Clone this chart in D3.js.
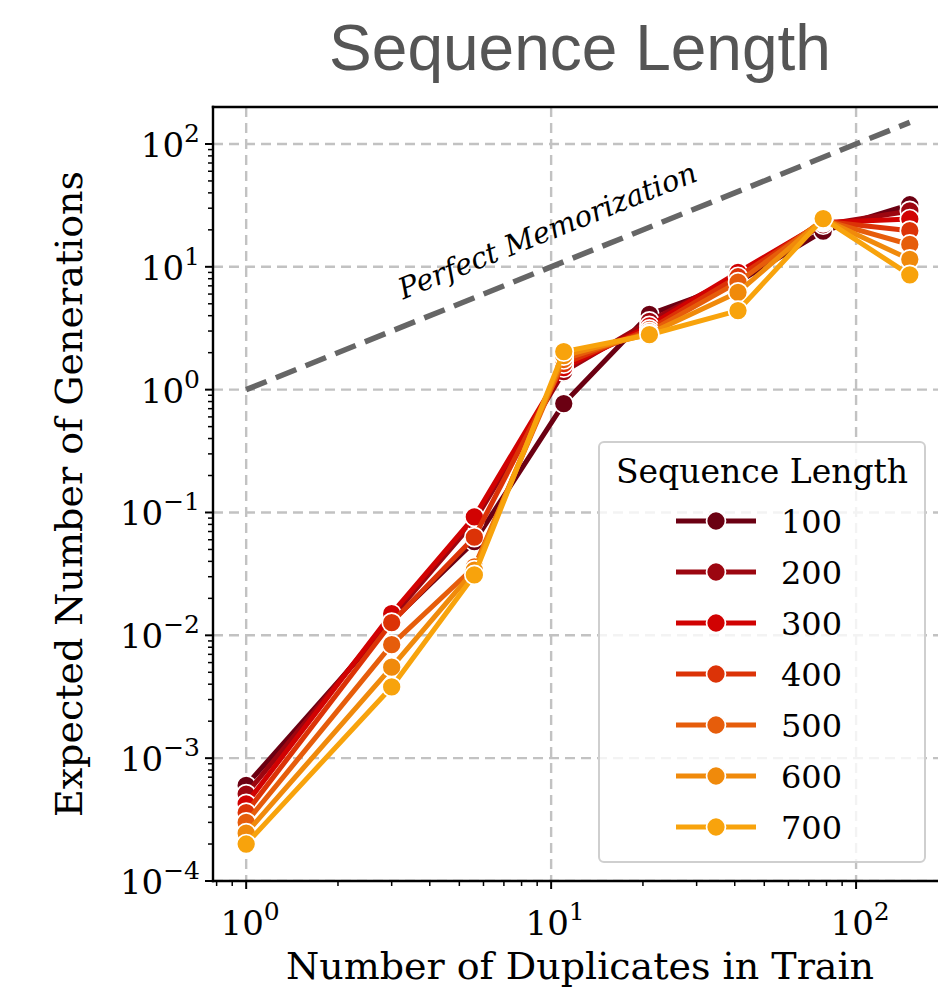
<!DOCTYPE html>
<html>
<head>
<meta charset="utf-8">
<script src="https://cdn.jsdelivr.net/npm/d3@7"></script>
<style>
  body { margin: 0; background: #fff; }
  svg { display: block; }
</style>
</head>
<body>
<div id="viz"></div>
<script>
// data
const duplicates = [1, 3, 5.6, 11, 21, 41, 78, 150];
const seqLengths = ["100", "200", "300", "400", "500", "600", "700"];
const seqColors = ["#6b0012", "#9c0610", "#d10202", "#dc3307", "#e65d0b", "#f08a0b", "#f8a30c"];
const gen100 = [6.0e-4, 0.013, 0.058, 0.77, 4.1, 7.5, 19.5, 32];
const gen200 = [5.1e-4, 0.014, 0.085, 1.40, 3.6, 8.5, 22, 28.5];
const gen300 = [4.25e-4, 0.015, 0.092, 1.51, 3.3, 9.0, 23, 24.5];
const gen400 = [3.6e-4, 0.0127, 0.063, 1.63, 3.1, 8.3, 23.5, 19.7];
const gen500 = [3.0e-4, 0.0084, 0.036, 1.76, 2.95, 7.5, 24, 15.2];
const gen600 = [2.45e-4, 0.0055, 0.034, 1.89, 2.85, 6.2, 24.5, 11.5];
const gen700 = [2.0e-4, 0.0038, 0.031, 2.04, 2.8, 4.4, 24.7, 8.6];
const allSeries = [gen100, gen200, gen300, gen400, gen500, gen600, gen700];
const perfectLine = [1, 150];
const xTickExps = [0, 1, 2];
const yTickExps = [-4, -3, -2, -1, 0, 1, 2];

const W = 938, H = 988;
const pLeft = 213, pRight = 943, pTop = 107, pBottom = 881;

const svg = d3.select("#viz").append("svg")
    .attr("width", W).attr("height", H);

const x = d3.scaleLog().domain([Math.pow(10, -0.1088), Math.pow(10, 2.285)]).range([pLeft, pRight]);
const y = d3.scaleLog().domain([1e-4, Math.pow(10, 2.301)]).range([pBottom, pTop]);

svg.append("defs").append("clipPath").attr("id", "plot")
  .append("rect").attr("x", pLeft).attr("y", pTop)
  .attr("width", pRight - pLeft).attr("height", pBottom - pTop);

// grid
const grid = svg.append("g").attr("clip-path", "url(#plot)");
xTickExps.forEach(e => {
  grid.append("line")
    .attr("x1", x(Math.pow(10, e))).attr("x2", x(Math.pow(10, e)))
    .attr("y1", pTop).attr("y2", pBottom)
    .attr("stroke", "#c2c2c2").attr("stroke-width", 2.4).attr("stroke-dasharray", "10,6");
});
yTickExps.forEach(e => {
  grid.append("line")
    .attr("x1", pLeft).attr("x2", pRight)
    .attr("y1", y(Math.pow(10, e))).attr("y2", y(Math.pow(10, e)))
    .attr("stroke", "#c2c2c2").attr("stroke-width", 2.4).attr("stroke-dasharray", "10,6");
});

// perfect memorization
svg.append("line")
  .attr("x1", x(perfectLine[0])).attr("y1", y(perfectLine[0]))
  .attr("x2", x(perfectLine[1])).attr("y2", y(perfectLine[1]))
  .attr("stroke", "#666").attr("stroke-width", 5.5).attr("stroke-dasharray", "22,10");

const ang = Math.atan2(y(1) - y(10), x(10) - x(1)) * 180 / Math.PI;
svg.append("text")
  .attr("transform", `translate(${x(10)},${y(10) - 27}) rotate(${-ang})`)
  .attr("text-anchor", "middle")
  .attr("font-family", "DejaVu Serif")
  .attr("font-style", "italic")
  .attr("font-size", 29)
  .text("Perfect Memorization");

// series
const line = d3.line().x((d, i) => x(duplicates[i])).y(d => y(d));
allSeries.forEach((vals, k) => {
  const g = svg.append("g");
  g.append("path").datum(vals)
    .attr("d", line)
    .attr("fill", "none")
    .attr("stroke", seqColors[k])
    .attr("stroke-width", 5)
    .attr("stroke-linejoin", "round");
  g.selectAll("circle").data(vals).enter().append("circle")
    .attr("cx", (d, i) => x(duplicates[i]))
    .attr("cy", d => y(d))
    .attr("r", 9.5)
    .attr("fill", seqColors[k])
    .attr("stroke", "#fff")
    .attr("stroke-width", 1.7);
});

// spines
const spW = 2.4;
[[pLeft, pLeft, pTop, pBottom], [pLeft, pRight, pBottom, pBottom],
 [pLeft, pRight, pTop, pTop], [pRight, pRight, pTop, pBottom]].forEach(s => {
  svg.append("line").attr("x1", s[0]).attr("x2", s[1]).attr("y1", s[2]).attr("y2", s[3])
    .attr("stroke", "#000").attr("stroke-width", spW).attr("stroke-linecap", "square");
});

// ticks
function logTicks(scale) {
  const [a, b] = scale.domain();
  const out = [];
  for (let e = Math.floor(Math.log10(a)); e <= Math.ceil(Math.log10(b)); e++) {
    for (let m = 1; m <= 9; m++) {
      const v = m * Math.pow(10, e);
      if (v >= a && v <= b) out.push({ v, major: m === 1 });
    }
  }
  return out;
}
logTicks(x).forEach(t => {
  svg.append("line").attr("x1", x(t.v)).attr("x2", x(t.v))
    .attr("y1", pBottom).attr("y2", pBottom + (t.major ? 8 : 5))
    .attr("stroke", "#000").attr("stroke-width", t.major ? 2 : 1.5);
});
logTicks(y).forEach(t => {
  svg.append("line").attr("x1", pLeft).attr("x2", pLeft - (t.major ? 8 : 5))
    .attr("y1", y(t.v)).attr("y2", y(t.v))
    .attr("stroke", "#000").attr("stroke-width", t.major ? 2 : 1.5);
});

function powLabel(sel, e) {
  sel.append("tspan").text("10");
  sel.append("tspan").attr("dy", -15).attr("font-size", 25)
    .text(e < 0 ? "\u2212" + (-e) : String(e));
}
xTickExps.forEach(e => {
  const t = svg.append("text")
    .attr("x", x(Math.pow(10, e)) + 4).attr("y", pBottom + 54)
    .attr("text-anchor", "middle")
    .attr("font-family", "DejaVu Serif").attr("font-size", 34);
  powLabel(t, e);
});
yTickExps.forEach(e => {
  const t = svg.append("text")
    .attr("x", pLeft - 13).attr("y", y(Math.pow(10, e)) + 13)
    .attr("text-anchor", "end")
    .attr("font-family", "DejaVu Serif").attr("font-size", 34);
  powLabel(t, e);
});

// axis labels and title
svg.append("text")
  .attr("x", 580).attr("y", 979)
  .attr("text-anchor", "middle")
  .attr("font-family", "DejaVu Serif").attr("font-size", 38)
  .text("Number of Duplicates in Train");
svg.append("text")
  .attr("transform", `translate(82,494) rotate(-90)`)
  .attr("text-anchor", "middle")
  .attr("font-family", "DejaVu Serif").attr("font-size", 38)
  .text("Expected Number of Generations");
svg.append("text")
  .attr("x", 580).attr("y", 70)
  .attr("text-anchor", "middle")
  .attr("font-family", "Liberation Sans, Arial, sans-serif").attr("font-size", 64)
  .attr("fill", "#555")
  .text("Sequence Length");

// legend
const lg = svg.append("g");
lg.append("rect")
  .attr("x", 599).attr("y", 442).attr("width", 326).attr("height", 420).attr("rx", 5)
  .attr("fill", "#fff").attr("fill-opacity", 0.8)
  .attr("stroke", "#cfcfcf").attr("stroke-width", 2);
lg.append("text")
  .attr("x", 762).attr("y", 483)
  .attr("text-anchor", "middle")
  .attr("font-family", "DejaVu Serif").attr("font-size", 33)
  .text("Sequence Length");
seqLengths.forEach((s, k) => {
  const yy = 521 + k * 51;
  lg.append("line").attr("x1", 676).attr("x2", 756).attr("y1", yy).attr("y2", yy)
    .attr("stroke", seqColors[k]).attr("stroke-width", 5);
  lg.append("circle").attr("cx", 716).attr("cy", yy).attr("r", 9.5)
    .attr("fill", seqColors[k]).attr("stroke", "#fff").attr("stroke-width", 1.7);
  lg.append("text").attr("x", 781).attr("y", yy + 12)
    .attr("font-family", "DejaVu Serif").attr("font-size", 32)
    .text(s);
});
</script>
</body>
</html>
